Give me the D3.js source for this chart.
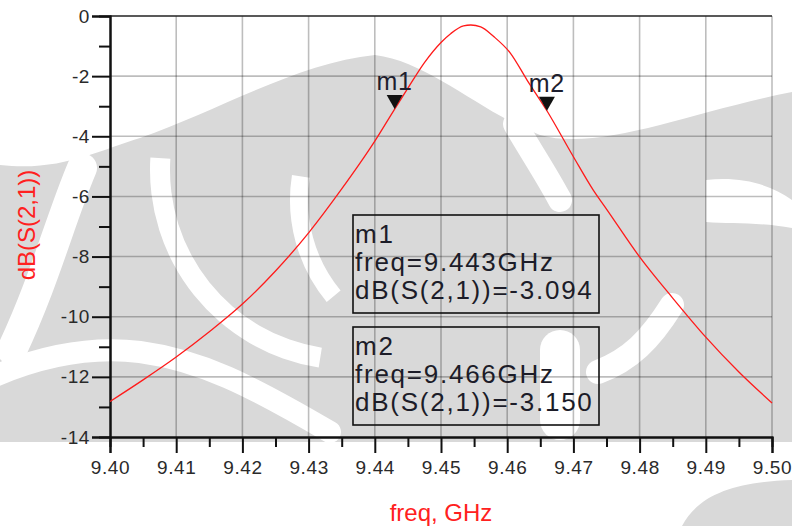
<!DOCTYPE html>
<html>
<head>
<meta charset="utf-8">
<script src="https://cdn.jsdelivr.net/npm/d3@7"></script>
<style>
  html, body { margin: 0; padding: 0; background: #fff; }
  svg { display: block; font-family: Arial, "Liberation Sans", sans-serif; }
</style>
</head>
<body>
<svg id="chart" width="792" height="526"></svg>
<script>
// Transmission response S21 of the band-pass filter (dB vs GHz)
const freqGHz = [9.400, 9.405, 9.410, 9.415, 9.420, 9.425, 9.430, 9.435, 9.440, 9.443,
                 9.445, 9.4475, 9.450, 9.4515, 9.4534, 9.4545, 9.456, 9.458, 9.4605, 9.463,
                 9.466, 9.470, 9.473, 9.475, 9.480, 9.485, 9.490, 9.495, 9.500];
const s21dB   = [-12.82, -12.10, -11.34, -10.50, -9.58, -8.48, -7.21, -5.75, -4.16, -3.094,
                 -2.40, -1.55, -0.88, -0.58, -0.33, -0.30, -0.36, -0.69, -1.24, -2.13,
                 -3.150, -4.68, -5.79, -6.42, -8.01, -9.38, -10.68, -11.84, -12.87];

// Markers
const markerNames = ["m1", "m2"];
const markerFreq  = [9.443, 9.466];
const markerDB    = [-3.094, -3.150];

// Axis ticks
const xMajorTicks = [9.40, 9.41, 9.42, 9.43, 9.44, 9.45, 9.46, 9.47, 9.48, 9.49, 9.50];
const xMinorTicks = [9.405, 9.415, 9.425, 9.435, 9.445, 9.455, 9.465, 9.475, 9.485, 9.495];
const yMajorTicks = [0, -2, -4, -6, -8, -10, -12, -14];
const yMinorTicks = [-1, -3, -5, -7, -9, -11, -13];

const xLabel = "freq, GHz";
const yLabel = "dB(S(2,1))";

const svg = d3.select("#chart");
const plot = { left: 110, right: 772, top: 16, bottom: 437 };

const x = d3.scaleLinear().domain([9.40, 9.50]).range([plot.left, plot.right]);
const y = d3.scaleLinear().domain([0, -14]).range([plot.top, plot.bottom]);

// faint emblem watermark behind the plot
const wm = svg.append("g").attr("class", "watermark");
wm.append("path").attr("fill", "#d9d9d9")
  .attr("d", "M0,165 C60,172 100,150 140,138 C220,110 300,62 375,55 C430,62 480,112 540,135 " +
             "C600,152 690,112 792,92 L792,526 L0,526 Z");
// white bands cut through the emblem
const band = (d, w) => wm.append("path").attr("d", d).attr("fill", "none")
  .attr("stroke", "#fff").attr("stroke-width", w).attr("stroke-linecap", "round");
const ring = (cx, cy, r0, r1, a0, a1) => wm.append("path").attr("fill", "#fff")
  .attr("transform", `translate(${cx},${cy})`)
  .attr("d", d3.arc()({ innerRadius: r0, outerRadius: r1,
                        startAngle: a0 * Math.PI, endAngle: a1 * Math.PI }));
ring(350, 170, 180, 200, 1.05, 1.52);
ring(450, 200, 142, 160, 1.28, 1.55);
band("M82,168 C60,220 45,280 12,350", 30);
band("M-10,378 C40,356 90,346 140,352 C200,360 250,385 330,432", 22);
band("M515,124 C530,150 545,172 560,200", 24);
band("M672,305 C650,340 630,360 598,372", 24);
band("M560,350 L560,420", 40);
wm.append("path").attr("fill", "#fff")
  .attr("d", "M0,442 L792,442 L792,480 C740,482 700,492 682,526 L0,526 Z");
wm.append("path").attr("fill", "#fff")
  .attr("d", "M706,180 C740,176 770,184 792,200 L792,228 C760,222 730,224 706,222 Z");

// grid
const grid = svg.append("g").attr("stroke", "rgba(0,0,0,0.26)").attr("stroke-width", 1.6);
grid.selectAll("line.v").data(xMajorTicks.slice(1)).join("line")
  .attr("x1", d => x(d)).attr("x2", d => x(d)).attr("y1", plot.top).attr("y2", plot.bottom);
grid.selectAll("line.h").data(yMajorTicks.slice(1, -1)).join("line")
  .attr("y1", d => y(d)).attr("y2", d => y(d)).attr("x1", plot.left).attr("x2", plot.right);

// top frame line
svg.append("line").attr("x1", plot.left).attr("x2", plot.right)
  .attr("y1", plot.top).attr("y2", plot.top)
  .attr("stroke", "#222").attr("stroke-width", 1.6);

// axes
const tickFont = g => g.selectAll("text")
  .attr("font-size", 19).attr("fill", "#2a2a2a").attr("letter-spacing", 0.6);

const xAxis = svg.append("g").attr("transform", `translate(0,${plot.bottom})`)
  .call(d3.axisBottom(x).tickValues(xMajorTicks).tickFormat(d3.format(".2f"))
        .tickSize(16).tickPadding(8));
xAxis.call(tickFont);
svg.append("g").attr("transform", `translate(0,${plot.bottom})`)
  .call(d3.axisBottom(x).tickValues(xMinorTicks).tickFormat("").tickSize(10));

const yAxis = svg.append("g").attr("transform", `translate(${plot.left},0)`)
  .call(d3.axisLeft(y).tickValues(yMajorTicks).tickFormat(d => String(d))
        .tickSize(18).tickPadding(2));
yAxis.call(tickFont);
svg.append("g").attr("transform", `translate(${plot.left},0)`)
  .call(d3.axisLeft(y).tickValues(yMinorTicks).tickFormat("").tickSize(11));

svg.selectAll(".domain").attr("stroke", "#111").attr("stroke-width", 2);
svg.selectAll(".tick line").attr("stroke", "#111").attr("stroke-width", 2);

// curve
const line = d3.line()
  .x((d, i) => x(freqGHz[i]))
  .y(d => y(d))
  .curve(d3.curveMonotoneX);
svg.append("path").datum(s21dB)
  .attr("d", line).attr("fill", "none")
  .attr("stroke", "#ff1a1a").attr("stroke-width", 1.3);

// marker triangles and names
const mk = svg.append("g");
markerNames.forEach((name, i) => {
  const px = x(markerFreq[i]), py = y(markerDB[i]);
  mk.append("path")
    .attr("d", `M${px},${py} L${px - 8},${py - 14} L${px + 8},${py - 14} Z`)
    .attr("fill", "#111");
  mk.append("text").attr("x", px).attr("y", py - 19)
    .attr("text-anchor", "middle").attr("font-size", 25).attr("letter-spacing", 0.8)
    .attr("fill", "#1e1e2e").text(name);
});

// marker readout boxes
const boxLeft = 353, boxW = 246, boxH = 98, boxTops = [215, 327];
markerNames.forEach((name, i) => {
  const g = svg.append("g").attr("transform", `translate(${boxLeft},${boxTops[i]})`);
  g.append("rect").attr("width", boxW).attr("height", boxH)
    .attr("fill", "none").attr("stroke", "#111").attr("stroke-width", 1.6);
  const lines = [name,
                 `freq=${markerFreq[i].toFixed(3)}GHz`,
                 `dB(S(2,1))=${markerDB[i].toFixed(3)}`];
  g.selectAll("text").data(lines).join("text")
    .attr("x", 2).attr("y", (d, j) => 28 + j * 28.2)
    .attr("font-size", 26).attr("letter-spacing", 1.75)
    .attr("fill", "#1c1c28").text(d => d);
});

// axis titles
svg.append("text").attr("x", (plot.left + plot.right) / 2).attr("y", 521)
  .attr("text-anchor", "middle").attr("font-size", 24).attr("fill", "#ff2020")
  .text(xLabel);
svg.append("text").attr("transform", "translate(35,225) rotate(-90)")
  .attr("text-anchor", "middle").attr("font-size", 24).attr("fill", "#ff2020")
  .text(yLabel);
</script>
</body>
</html>
